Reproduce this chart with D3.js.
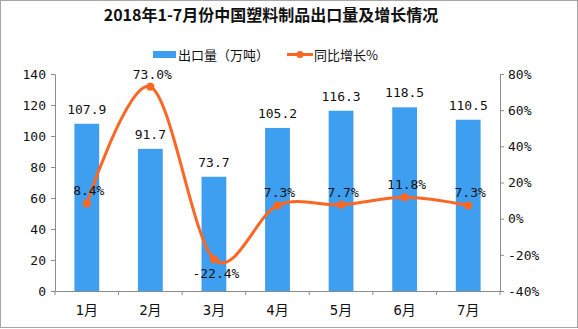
<!DOCTYPE html>
<html><head><meta charset="utf-8">
<script src="https://cdn.jsdelivr.net/npm/d3@7/dist/d3.min.js"></script>
<style>
html,body{margin:0;padding:0;background:#fff;}
svg{display:block;}
</style>
</head><body>
<svg id="chart" width="578" height="329"></svg>
<script>
const months = ["1月","2月","3月","4月","5月","6月","7月"];
const exportVol = [107.9, 91.7, 73.7, 105.2, 116.3, 118.5, 110.5];
const growth = [8.4, 73.0, -22.4, 7.3, 7.7, 11.8, 7.3];
const leftTicks = [0,20,40,60,80,100,120,140];
const rightTicks = [-40,-20,0,20,40,60,80];
const titleText = "2018年1-7月份中国塑料制品出口量及增长情况";
const legendBar = "出口量（万吨）";
const legendLine = "同比增长%";

(function(){
const svg = d3.select("#chart");
const numFont = "'DejaVu Sans Mono','Liberation Mono','Noto Sans CJK SC',monospace";
const cjkFont = "'DejaVu Sans Mono','Noto Sans CJK SC',sans-serif";
const barColor = "#3e9ff1";
const lineColor = "#fd6722";
const axisColor = "#8c8c8c";

svg.append("rect").attr("x",0.5).attr("y",0.5).attr("width",577).attr("height",327)
  .attr("fill","none").attr("stroke","#a6a6a6");

const pL = 55, pR = 500, pT = 74, pB = 291;
const x = d3.scaleBand().domain(months).range([pL,pR]).padding(0);
const yL = d3.scaleLinear().domain([0,140]).range([pB,pT]);
const yR = d3.scaleLinear().domain([-40,80]).range([pB,pT]);
const bw = x.bandwidth();
const barW = bw*0.39;
const cx = d => x(d) + bw/2;

svg.append("text").attr("x",271).attr("y",21).attr("text-anchor","middle")
  .attr("font-family","'Noto Sans CJK SC',sans-serif").attr("font-weight",700)
  .attr("font-size",16).attr("fill","#111").text(titleText);

const lg = svg.append("g");
lg.append("rect").attr("x",153).attr("y",51).attr("width",23).attr("height",7).attr("fill",barColor);
lg.append("text").attr("x",178).attr("y",59.5).attr("font-family","'Noto Sans CJK SC',sans-serif")
  .attr("font-size",13).attr("fill","#111").text(legendBar);
lg.append("line").attr("x1",287).attr("x2",313).attr("y1",54.5).attr("y2",54.5)
  .attr("stroke",lineColor).attr("stroke-width",3);
lg.append("circle").attr("cx",300).attr("cy",54.5).attr("r",3.5).attr("fill",lineColor);
lg.append("text").attr("x",314).attr("y",59.5).attr("font-family","'Noto Sans CJK SC',sans-serif")
  .attr("font-size",13).attr("fill","#111").text(legendLine);

svg.append("g").selectAll("rect").data(months).join("rect")
  .attr("x",(d)=>cx(d)-barW/2).attr("width",barW)
  .attr("y",(d,i)=>yL(exportVol[i])).attr("height",(d,i)=>yL(0)-yL(exportVol[i]))
  .attr("fill",barColor);

const ax = svg.append("g").attr("transform",`translate(${pL},0)`)
  .call(d3.axisLeft(yL).tickValues(leftTicks).tickSize(4).tickPadding(5).tickFormat(d3.format("d")));
ax.select(".domain").attr("stroke",axisColor);
ax.selectAll(".tick line").attr("stroke",axisColor);
ax.selectAll("text").attr("font-family",numFont).attr("font-size",13).attr("fill","#111");

const ar = svg.append("g").attr("transform",`translate(${pR},0)`)
  .call(d3.axisRight(yR).tickValues(rightTicks).tickSize(4).tickPadding(4).tickFormat(d=>d+"%"));
ar.select(".domain").attr("stroke",axisColor);
ar.selectAll(".tick line").attr("stroke",axisColor);
ar.selectAll("text").attr("font-family",numFont).attr("font-size",13).attr("fill","#111");

const xb = svg.append("g").attr("transform",`translate(0,${pB})`)
  .call(d3.axisBottom(x).tickSize(0).tickPadding(14));
xb.select(".domain").attr("stroke",axisColor);
xb.selectAll("text").attr("font-family",cjkFont).attr("font-size",14).attr("fill","#111");
const xTickPos = months.map(m=>x(m)).concat([pR]);
xb.selectAll("line.sep").data(xTickPos).join("line").attr("class","sep")
  .attr("x1",d=>d).attr("x2",d=>d).attr("y1",0).attr("y2",4).attr("stroke",axisColor);

svg.append("g").selectAll("text").data(months).join("text")
  .attr("x",d=>cx(d)).attr("y",(d,i)=>yL(exportVol[i])-10)
  .attr("text-anchor","middle").attr("font-family",numFont).attr("font-size",13).attr("fill","#111")
  .text((d,i)=>exportVol[i].toFixed(1));

const line = d3.line().x((d,i)=>cx(months[i])).y(d=>yR(d)).curve(d3.curveCardinal.tension(0));
svg.append("path").datum(growth).attr("d",line).attr("fill","none")
  .attr("stroke",lineColor).attr("stroke-width",3);
svg.append("g").selectAll("circle").data(growth).join("circle")
  .attr("cx",(d,i)=>cx(months[i])).attr("cy",d=>yR(d)).attr("r",4).attr("fill",lineColor);

svg.append("g").selectAll("text").data(growth).join("text")
  .attr("x",(d,i)=>cx(months[i])+2).attr("y",d=> d<0 ? yR(d)+19 : yR(d)-8)
  .attr("text-anchor","middle").attr("font-family",numFont).attr("font-size",13).attr("fill","#111")
  .text(d=>d.toFixed(1)+"%");
})();
</script>
</body></html>
